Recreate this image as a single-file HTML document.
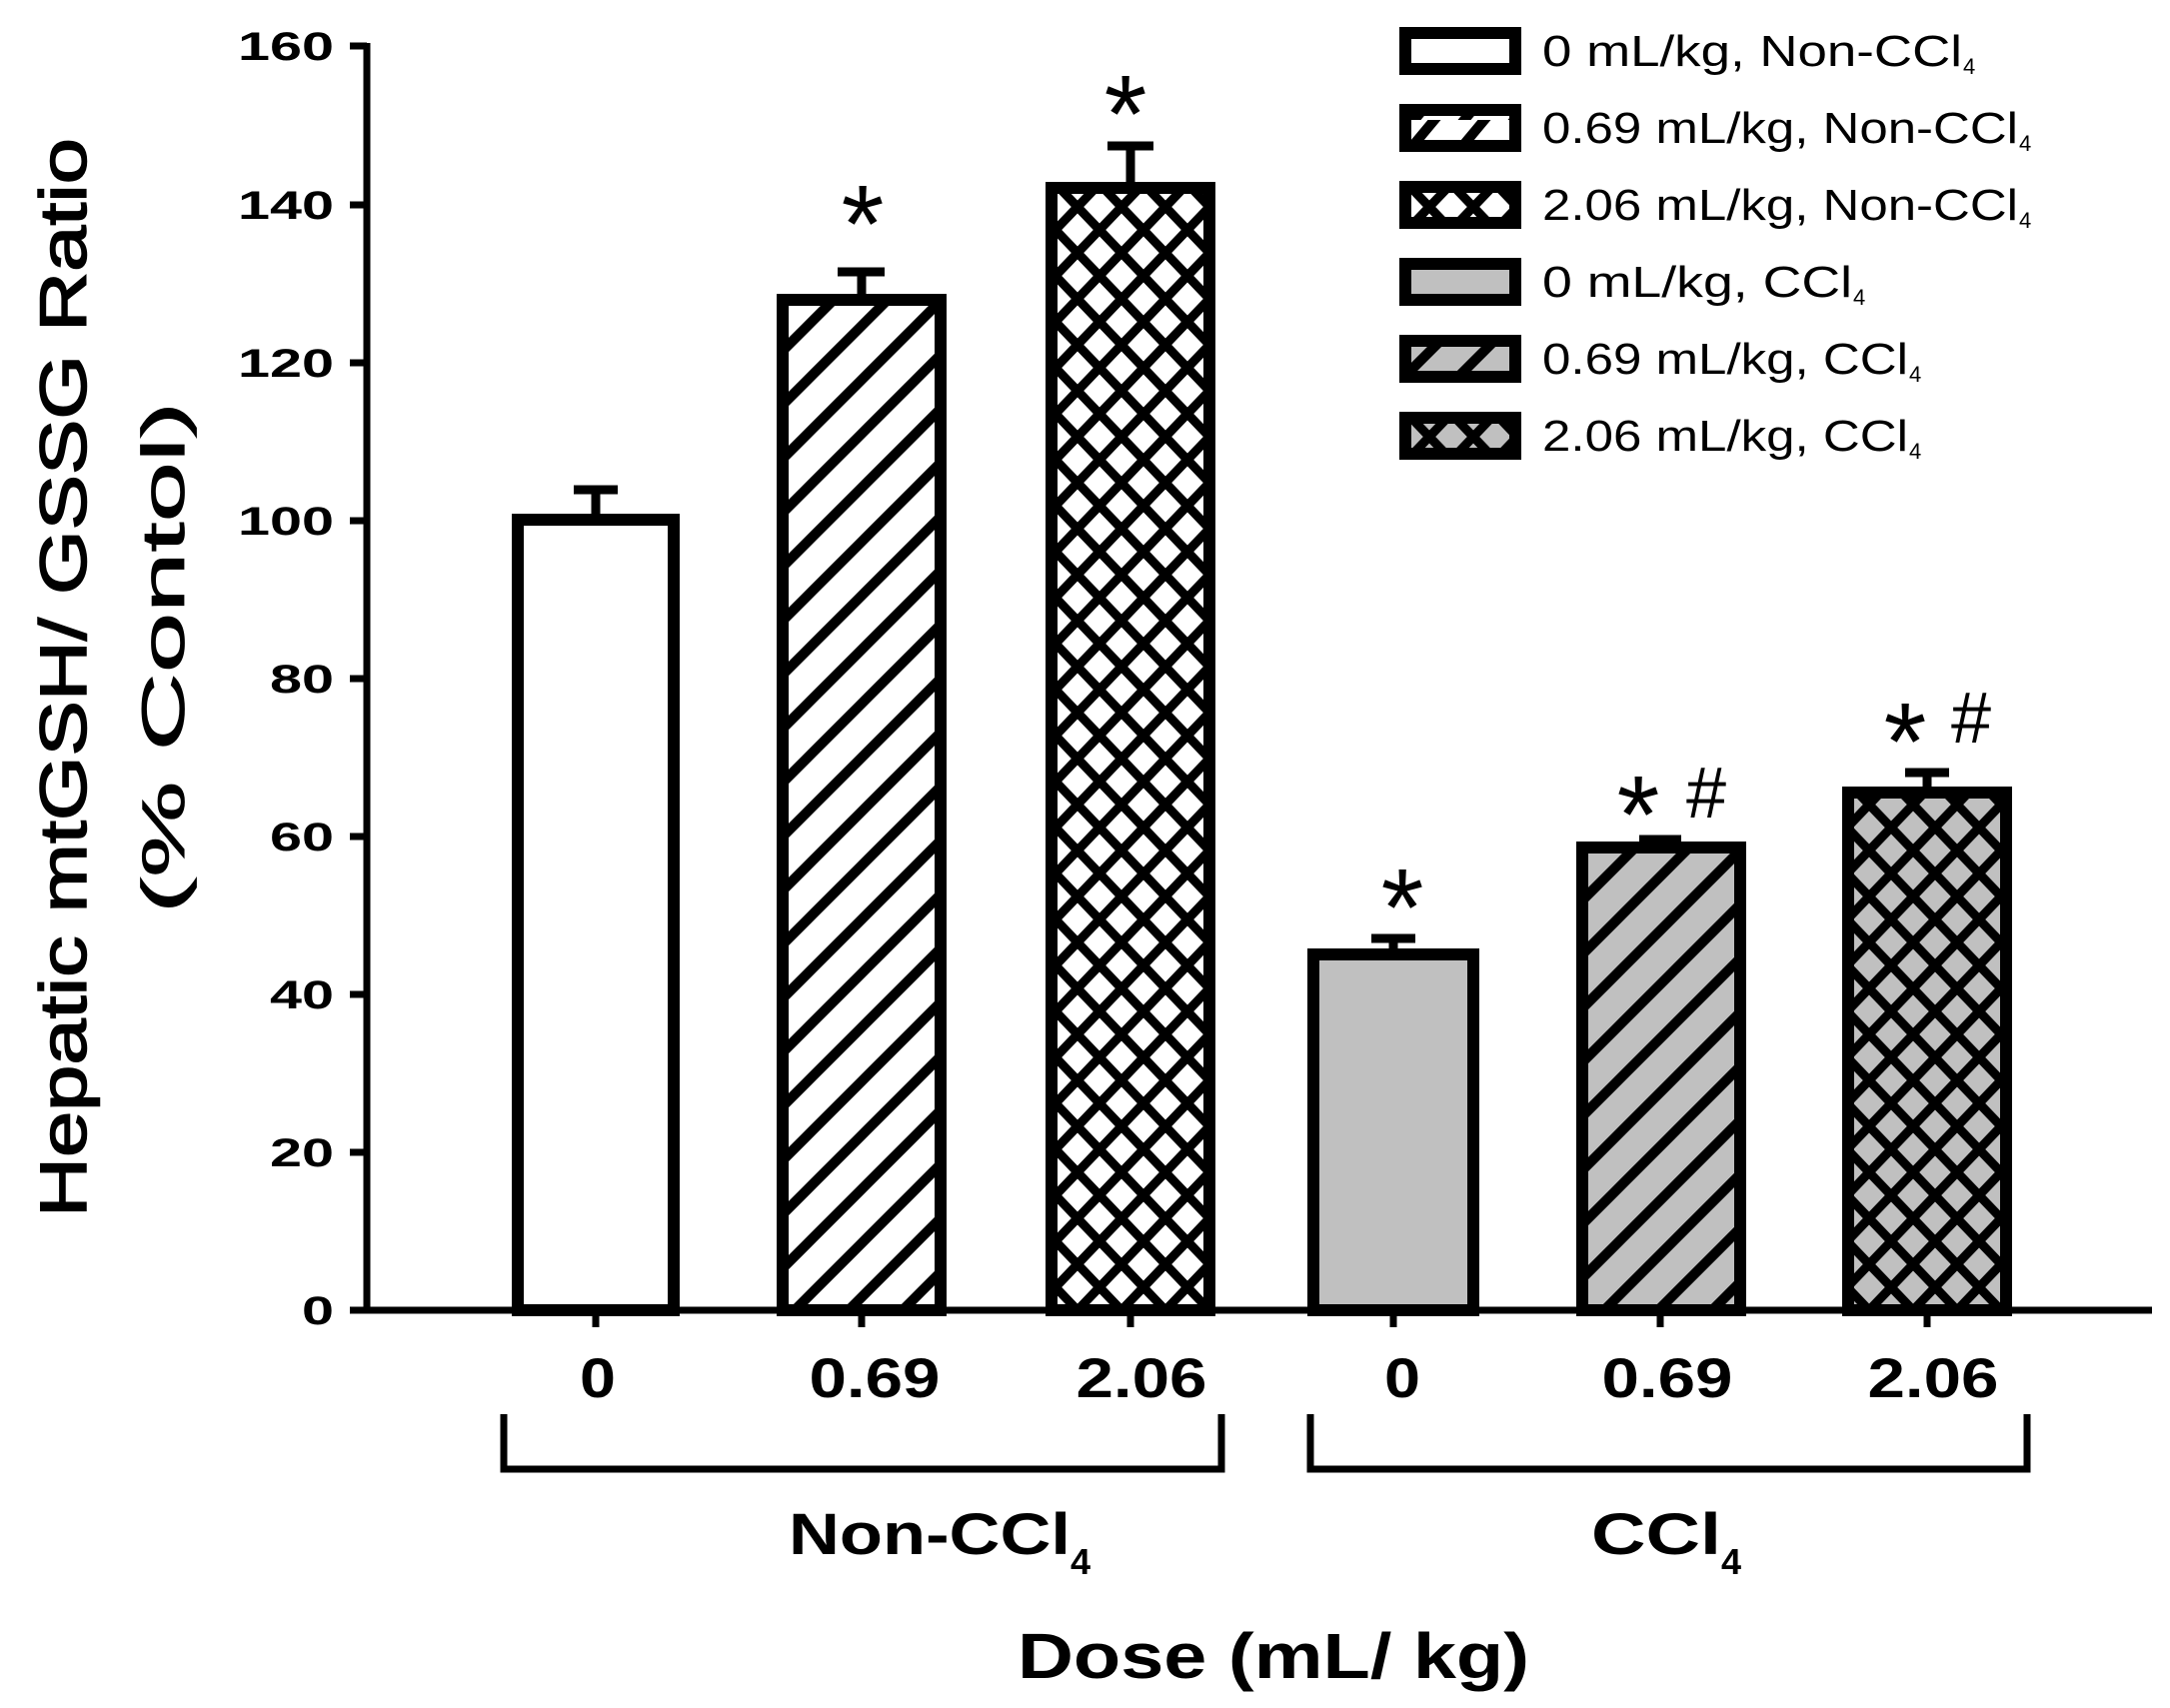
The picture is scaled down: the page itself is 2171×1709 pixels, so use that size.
<!DOCTYPE html>
<html><head><meta charset="utf-8"><style>
html,body{margin:0;padding:0;background:#fff;}
svg{display:block;}
text{font-family:"Liberation Sans",Arial,sans-serif;fill:#000;}
</style></head><body>
<svg width="2171" height="1709" viewBox="0 0 2171 1709" xmlns="http://www.w3.org/2000/svg">
<defs>
<pattern id="dw" patternUnits="userSpaceOnUse" width="54" height="54">
<rect width="54" height="54" fill="#fff"/>
<path d="M-27 27 L27 -27 M0 54 L54 0 M27 81 L81 27" stroke="#000" stroke-width="10"/>
</pattern>
<pattern id="dg" patternUnits="userSpaceOnUse" width="54" height="54">
<rect width="54" height="54" fill="#c0c0c0"/>
<path d="M-27 27 L27 -27 M0 54 L54 0 M27 81 L81 27" stroke="#000" stroke-width="10"/>
</pattern>
<pattern id="xw" patternUnits="userSpaceOnUse" width="44" height="46">
<rect width="44" height="46" fill="#fff"/>
<path d="M-22 23 L22 -23 M0 46 L44 0 M22 69 L66 23 M-22 23 L22 69 M0 0 L44 46 M22 -23 L66 23" stroke="#000" stroke-width="9"/>
</pattern>
<pattern id="xg" patternUnits="userSpaceOnUse" width="44" height="46">
<rect width="44" height="46" fill="#c0c0c0"/>
<path d="M-22 23 L22 -23 M0 46 L44 0 M22 69 L66 23 M-22 23 L22 69 M0 0 L44 46 M22 -23 L66 23" stroke="#000" stroke-width="9"/>
</pattern>
<pattern id="ldw" patternUnits="userSpaceOnUse" width="50" height="24" x="1400" y="0">
<rect width="50" height="24" fill="#fff"/>
<path d="M10 30 L40 -6" stroke="#000" stroke-width="10"/>
</pattern>
</defs>

<g stroke="#000" stroke-width="9" fill="none">
<path d="M596 520 V490 M574 490 H618"/>
<path d="M862 300 V272 M838 272 H885"/>
<path d="M1131 188 V146 M1108 146 H1154"/>
<path d="M1394 955 V939 M1372 939 H1416"/>
<path d="M1661 848 V840 M1640 840 H1682"/>
<path d="M1928 793 V773 M1906 773 H1950"/>
</g>

<g stroke="#000" stroke-width="12">
<rect x="518" y="520" width="156" height="791" fill="#fff"/>
<rect x="783" y="300" width="158" height="1011" fill="url(#dw)"/>
<rect x="1052" y="188" width="158" height="1123" fill="url(#xw)"/>
<rect x="1314" y="955" width="160" height="356" fill="#c0c0c0"/>
<rect x="1583" y="848" width="158" height="463" fill="url(#dg)"/>
<rect x="1849" y="793" width="158" height="518" fill="url(#xg)"/>
</g>

<g stroke="#000" stroke-width="7" fill="none">
<path d="M367 43 V1314 M364 1311 H2153"/>
<path d="M350 46 H367 M350 205 H367 M350 363 H367 M350 521 H367 M350 679 H367 M350 837 H367 M350 995 H367 M350 1153 H367 M350 1311 H367"/>
<path d="M596 1311 V1328 M862 1311 V1328 M1131 1311 V1328 M1394 1311 V1328 M1661 1311 V1328 M1928 1311 V1328"/>
<path d="M504 1415 V1470 H1222 V1415 M1311 1415 V1470 H2028 V1415"/>
</g>

<g font-weight="bold" font-size="40" text-anchor="end">
<text x="334" y="60" textLength="96" lengthAdjust="spacingAndGlyphs">160</text>
<text x="334" y="219" textLength="96" lengthAdjust="spacingAndGlyphs">140</text>
<text x="334" y="377" textLength="96" lengthAdjust="spacingAndGlyphs">120</text>
<text x="334" y="535" textLength="96" lengthAdjust="spacingAndGlyphs">100</text>
<text x="334" y="693" textLength="64" lengthAdjust="spacingAndGlyphs">80</text>
<text x="334" y="851" textLength="64" lengthAdjust="spacingAndGlyphs">60</text>
<text x="334" y="1009" textLength="64" lengthAdjust="spacingAndGlyphs">40</text>
<text x="334" y="1167" textLength="64" lengthAdjust="spacingAndGlyphs">20</text>
<text x="334" y="1325" textLength="32" lengthAdjust="spacingAndGlyphs">0</text>
</g>

<g text-anchor="middle">
<text transform="translate(86,678) rotate(-90)" font-size="66" stroke="#000" stroke-width="1.5" textLength="1080" lengthAdjust="spacingAndGlyphs">Hepatic mtGSH/ GSSG Ratio</text>
<text transform="translate(184,658) rotate(-90)" font-size="60" stroke="#000" stroke-width="0.8" textLength="512" lengthAdjust="spacingAndGlyphs">(% Contol)</text>
</g>

<g font-weight="bold" font-size="56" text-anchor="middle">
<text x="598" y="1398" textLength="36" lengthAdjust="spacingAndGlyphs">0</text>
<text x="875" y="1398" textLength="131" lengthAdjust="spacingAndGlyphs">0.69</text>
<text x="1142" y="1398" textLength="131" lengthAdjust="spacingAndGlyphs">2.06</text>
<text x="1403" y="1398" textLength="36" lengthAdjust="spacingAndGlyphs">0</text>
<text x="1668" y="1398" textLength="131" lengthAdjust="spacingAndGlyphs">0.69</text>
<text x="1934" y="1398" textLength="131" lengthAdjust="spacingAndGlyphs">2.06</text>
</g>

<g font-weight="bold" font-size="58">
<text x="789" y="1555" textLength="282" lengthAdjust="spacingAndGlyphs">Non-CCl</text>
<text x="1071" y="1575" font-size="36">4</text>
<text x="1592" y="1555" textLength="130" lengthAdjust="spacingAndGlyphs">CCl</text>
<text x="1722" y="1575" font-size="36">4</text>
<text x="1018" y="1679" font-size="64" textLength="512" lengthAdjust="spacingAndGlyphs">Dose (mL/ kg)</text>
</g>

<g font-size="110" text-anchor="middle">
<text x="863" y="262">*</text>
<text x="1126" y="152">*</text>
<text x="1403" y="946">*</text>
<text x="1639" y="853">*</text>
<text x="1906" y="780">*</text>
</g>
<g font-size="72" text-anchor="middle">
<text x="1707" y="818">#</text>
<text x="1972" y="743">#</text>
</g>

<g stroke="#000" stroke-width="12">
<rect x="1406" y="33" width="110" height="36" fill="#fff"/>
<rect x="1406" y="110" width="110" height="36" fill="url(#ldw)"/>
<rect x="1406" y="187" width="110" height="36" fill="url(#xw)"/>
<rect x="1406" y="264" width="110" height="36" fill="#c0c0c0"/>
<rect x="1406" y="341" width="110" height="36" fill="url(#dg)"/>
<rect x="1406" y="418" width="110" height="36" fill="url(#xg)"/>
</g>
<g font-size="44">
<text x="1543" y="66" textLength="420" lengthAdjust="spacingAndGlyphs">0 mL/kg, Non-CCl</text><text x="1964" y="74" font-size="22">4</text>
<text x="1543" y="143" textLength="476" lengthAdjust="spacingAndGlyphs">0.69 mL/kg, Non-CCl</text><text x="2020" y="151" font-size="22">4</text>
<text x="1543" y="220" textLength="476" lengthAdjust="spacingAndGlyphs">2.06 mL/kg, Non-CCl</text><text x="2020" y="228" font-size="22">4</text>
<text x="1543" y="297" textLength="310" lengthAdjust="spacingAndGlyphs">0 mL/kg, CCl</text><text x="1854" y="305" font-size="22">4</text>
<text x="1543" y="374" textLength="366" lengthAdjust="spacingAndGlyphs">0.69 mL/kg, CCl</text><text x="1910" y="382" font-size="22">4</text>
<text x="1543" y="451" textLength="366" lengthAdjust="spacingAndGlyphs">2.06 mL/kg, CCl</text><text x="1910" y="459" font-size="22">4</text>
</g>
</svg>
</body></html>
